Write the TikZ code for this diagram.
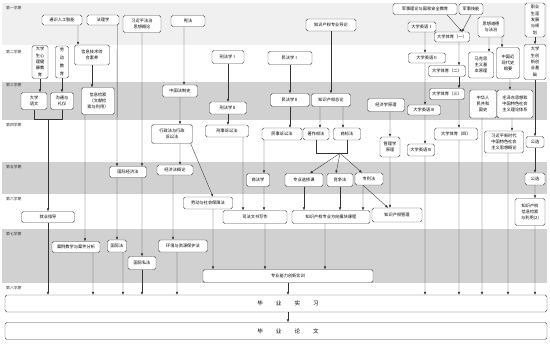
\documentclass[tikz,border=0pt]{standalone}
\usepackage{fontspec}
\setmainfont{Noto Sans CJK SC}
\usetikzlibrary{arrows.meta,calc}

\begin{document}
\begin{tikzpicture}[
  x=0.5mm, y=-0.5mm,
  font=\fontsize{6}{9}\selectfont,
  course/.style={draw=black!70, line width=0.6pt, rounded corners=2.5pt, fill=white,
                 align=center, inner sep=0.5pt},
  sz/.style 2 args={minimum width=#1*0.5mm, minimum height=#2*0.5mm},
  arr/.style={-{Latex[length=1.4mm,width=1.2mm]}, line width=0.5pt, draw=black!80},
  link/.style={line width=0.5pt, draw=black!80},
  term/.style={anchor=west, font=\fontsize{5.5}{6}\selectfont, text=black!80, inner sep=0pt},
  bandlight/.style={fill=black!6, draw=none},
  banddark/.style={fill=black!18, draw=none}
]
\useasboundingbox (0,0) rectangle (550,344);

% ---------------- 学期底色 ----------------
\fill[bandlight] (2,3) rectangle (547,45);
\fill[banddark] (2,82) rectangle (547,120);
\fill[banddark] (2,162) rectangle (547,194);
\fill[banddark] (2,229) rectangle (547,283);

\node[term] (t1) at (6,8) {第一学期};
\node[term] (t2) at (6,52) {第二学期};
\node[term] (t3) at (6,85) {第三学期};
\node[term] (t4) at (6,125) {第四学期};
\node[term] (t5) at (6,167) {第五学期};
\node[term] (t6) at (6,199) {第六学期};
\node[term] (t7) at (6,234) {第七学期};
\node[term] (t8) at (6,288) {第八学期};

% ---------------- 第一学期 ----------------
\node[course, sz={40}{10}] (tyrg) at (62,20) {通识人工智能};
\node[course, sz={32}{10}] (flx) at (103,20) {法理学};
\node[course, sz={38}{17}] (xfz) at (142,24) {习近平法治\\思想概论};
\node[course, sz={34}{11}] (xf) at (188,21) {宪法};
\node[course, sz={50}{12}] (zscqdl) at (331,25) {知识产权专业导论};
\node[course, sz={64}{11}] (jsll) at (425,9) {军事理论与国家安全教育};
\node[course, sz={24}{11}] (jsjn) at (471,9) {军事技能};
\node[course, sz={28}{10}] (yy1) at (422,27) {大学英语Ⅰ};
\node[course, sz={35}{10}] (ty1) at (452,37) {大学体育（一）};
\node[course, sz={26}{20}] (sxdd) at (491,27) {思想道德\\与法治};
\node[course, sz={20}{34}] (zysy) at (535,20) {职业\\生涯\\发展\\与规\\划};

% ---------------- 第二学期 ----------------
\node[course, sz={16}{33}] (xljk) at (40,62) {大学\\生心\\理健\\康教\\育};
\node[course, sz={13}{32}, font=\fontsize{6}{11}\selectfont] (ldjy) at (62,62) {劳\\动\\教\\育};
\node[course, sz={35}{20}] (xxjs) at (92,55) {信息技术综\\合素养};
\node[course, sz={32}{13}] (xfx1) at (228,57) {刑法学Ⅰ};
\node[course, sz={44}{13}] (mfx1) at (290,58) {民法学Ⅰ};
\node[course, sz={37}{10}] (yy2) at (427,58) {大学英语Ⅱ};
\node[course, sz={37}{11}] (ty2) at (447,71) {大学体育（二）};
\node[course, sz={25}{26}] (myl) at (481,65) {马克思\\主义基\\本原理};
\node[course, sz={23}{31}] (gy) at (508,63) {中国近\\现代史\\纲要};
\node[course, sz={22}{35}] (cxcy) at (535,62) {大学\\生创\\新创\\业基\\础};

% ---------------- 第三学期 ----------------
\node[course, sz={26}{17}] (dxyw) at (34,101) {大学\\语文};
\node[course, sz={23}{17}] (gtly) at (62,101) {沟通与\\礼仪};
\node[course, sz={33}{27}] (xxjss) at (98,101) {信息检索\\（文献检\\索与利用）};
\node[course, sz={35}{12}] (zgfzs) at (180,91) {中国法制史};
\node[course, sz={37}{12}] (xfx2) at (228,108) {刑法学Ⅱ};
\node[course, sz={39}{13}] (mfx2) at (290,100) {民法学Ⅱ};
\node[course, sz={39}{13}] (zscqzl) at (331,100) {知识产权总论};
\node[course, sz={37}{13}] (jjx) at (386,105) {经济学原理};
\node[course, sz={35}{11}] (ty3) at (447,94) {大学体育（三）};
\node[course, sz={33}{10}] (yy3) at (424,110) {大学英语Ⅲ};
\node[course, sz={27}{28}] (zhs) at (483,104) {中华人\\民共和\\国史};
\node[course, sz={36}{28}] (mg) at (515,104) {毛泽东思想和\\中国特色社会\\主义理论体系};

% ---------------- 第四学期 ----------------
\node[course, sz={41}{19}] (xzf) at (172,134) {行政法与行政\\诉讼法};
\node[course, sz={43}{12}] (xsss) at (227,131) {刑事诉讼法};
\node[course, sz={40}{12}] (msss) at (282,134) {民事诉讼法};
\node[course, sz={26}{12}] (zzq) at (316,134) {著作权法};
\node[course, sz={27}{12}] (sbf) at (347,134) {商标法};
\node[course, sz={20}{20}] (glx) at (390,147) {管理学\\原理};
\node[course, sz={27}{12}] (yy4) at (421,150) {大学英语Ⅳ};
\node[course, sz={43}{12}] (ty4) at (456,134) {大学体育（四）};
\node[course, sz={39}{22}] (xsd) at (504,142) {习近平新时代\\中国特色社会\\主义思想概论};
\node[course, sz={18}{11}] (gx1) at (535,142) {公选};

% ---------------- 第五学期 ----------------
\node[course, sz={37}{11}] (gjjjf) at (128,172) {国际经济法};
\node[course, sz={36}{10}] (jjfgl) at (175,170) {经济法概论};
\node[course, sz={23}{13}] (sfx) at (258,180) {商法学};
\node[course, sz={38}{13}] (zyxx) at (304,180) {专业选修课};
\node[course, sz={26}{13}] (jzf) at (340,180) {竞争法};
\node[course, sz={28}{12}] (zlf) at (369,179) {专利法};
\node[course, sz={20}{12}] (gx2) at (535,179) {公选};

% ---------------- 第六学期 ----------------
\node[course, sz={53}{11}] (jyzd) at (48,217) {就业指导};
\node[course, sz={49}{12}] (ldsb) at (208,203) {劳动与社会保障法};
\node[course, sz={64}{13}] (sfws) at (255,217) {司法文书写作};
\node[course, sz={78}{13}] (fxmk) at (331,217) {知识产权专业方向模块课程};
\node[course, sz={50}{14}] (zscqgl) at (397,215) {知识产权管理};
\node[course, sz={30}{27}] (zscqjs) at (530,212) {知识产权\\信息检索\\与利用(2)};

% ---------------- 第七、八学期 ----------------
\node[course, sz={48}{11}] (aljx) at (76,247) {案例教学与案件分析};
\node[course, sz={19}{12}] (gjf) at (117,246) {国际法};
\node[course, sz={28}{13}] (gjsf) at (142,263) {国际私法};
\node[course, sz={49}{12}] (hjzy) at (183,246) {环境与资源保护法};
\node[course, sz={170}{13}] (cxsx) at (288,276) {专业能力创新实训};
\node[course, sz={542}{17},
      label={[font=\fontsize{8}{8}\selectfont, xshift=6mm]center:毕\hspace{6.5mm}业\hspace{6.5mm}实\hspace{6.5mm}习}]
  (bysx) at (276,303.5) {};
\node[course, sz={542}{17},
      label={[font=\fontsize{8}{8}\selectfont, xshift=6mm]center:毕\hspace{6.5mm}业\hspace{6.5mm}论\hspace{6.5mm}文}]
  (bylw) at (276,331) {};

% ---------------- 左侧连线 ----------------
\draw[arr] ([xshift=8mm]tyrg.south) -- ([xshift=-7mm]xxjs.north);
\draw[arr] (xljk.south) -- (xljk.south |- dxyw.north);
\draw[arr] (ldjy.south) -- (ldjy.south |- gtly.north);
\draw[arr] (xxjs.south) -- (xxjs.south |- xxjss.north);
\coordinate (ywgt) at ($(dxyw.south)!0.5!(gtly.south)+(0,9)$);
\draw[link] (dxyw.south) |- (ywgt) -| (gtly.south);
\draw[arr] (ywgt) -- (jyzd.north);
\draw[arr] ([xshift=-6.5mm]xxjss.south) -- ([xshift=4.5mm]aljx.north);
\draw[arr] ([xshift=-1mm]flx.south east) -- ([xshift=-5.5mm]gjjjf.north);
\draw[arr] (xfz.south) -- ([xshift=7mm]gjjjf.north);
\draw[arr] ([xshift=-5.5mm]gjjjf.south) -- (gjf.north);
\draw[arr] ([xshift=7mm]gjjjf.south) -- (gjsf.north);

% ---------------- 法学主干 ----------------
\draw[arr] ([xshift=-2mm]xf.south) -- ([xshift=2mm]zgfzs.north);
\draw[arr] (zgfzs.south) -- ([xshift=4mm]xzf.north);
\draw[arr] ([xshift=4mm]xzf.south) -- ([xshift=2.5mm]jjfgl.north);
\draw[arr] ([xshift=-1mm]xzf.south east) -- ([xshift=2.5mm]ldsb.north);
\draw[arr] ([xshift=-1mm]jjfgl.south) -- ([xshift=-5mm]hjzy.north);
\draw[arr] ([xshift=2.5mm]ldsb.south) -- ([xshift=-37.5mm]cxsx.north);
\draw[arr] (xfx1.south) -- (xfx1.south |- xfx2.north);
\draw[arr] (xfx2.south) -- (xfx2.south |- xsss.north);
\draw[arr] ([xshift=8mm]xsss.south) -- ([xshift=-6mm]sfws.north);
\draw[arr] (mfx1.south) -- (mfx1.south |- mfx2.north);
\draw[arr] (mfx2.south) -- (mfx2.south |- msss.north);
\draw[arr] ([xshift=-9mm]msss.south) -- ([xshift=3mm]sfx.north);
\draw[arr] ([xshift=3mm]sfx.south) -- ([xshift=4.5mm]sfws.north);
\draw[arr] ([xshift=5mm]sfws.south) -- ([xshift=-11.5mm]cxsx.north);

% ---------------- 知识产权 ----------------
\draw[arr] (zscqdl.south) -- (zscqdl.south |- zscqzl.north);
\draw[arr] ([xshift=-5.5mm]zscqzl.south) -- ([xshift=2mm]zzq.north);
\draw[arr] ([xshift=6mm]zscqzl.south) -- ([xshift=-2mm]sbf.north);
\coordinate (zsfk) at ($(sbf.south)+(-7,13)$);
\draw[link] (zzq.south) |- (zsfk) -| (sbf.south);
\draw[arr] (zsfk) -- ([xshift=3mm]zyxx.north);
\draw[arr] (zsfk) -- ([xshift=-2mm]jzf.north);
\draw[arr] (zsfk) -- ([xshift=-3.5mm]zlf.north);
\draw[arr] ([xshift=2mm]jjx.south) -- (glx.north);
\draw[arr] (glx.south) -- ([xshift=-3.5mm]zscqgl.north);
\draw[arr] ([xshift=-3mm]zlf.south) -- ([xshift=-4.5mm]zscqgl.north);
\draw[arr] (zyxx.south) -- (zyxx.south |- fxmk.north);
\draw[arr] (jzf.south) -- (jzf.south |- fxmk.north);
\draw[arr] ([xshift=-3mm]zlf.south) -- ([xshift=16mm]fxmk.north);
\draw[arr] ([xshift=-3mm]fxmk.south) -- ([xshift=18.5mm]cxsx.north);

% ---------------- 公共课 ----------------
\draw[arr] ([xshift=11mm]jsll.south) -- ([xshift=5mm]ty1.north);
\draw[arr] (jsjn.south) -- ([xshift=5mm]ty1.north);
\draw[arr] ([xshift=1.5mm]yy1.south) -- ([xshift=-1mm]yy2.north);
\draw[arr] ([xshift=-1mm]yy2.south) -- ([xshift=0.5mm]yy3.north);
\draw[arr] ([xshift=0.5mm]yy3.south) -- ([xshift=2mm]yy4.north);
\draw[arr] ([xshift=3.5mm]ty1.south) -- ([xshift=6mm]ty2.north);
\draw[arr] ([xshift=6mm]ty2.south) -- ([xshift=6mm]ty3.north);
\draw[arr] ([xshift=6mm]ty3.south) -- ([xshift=1.5mm]ty4.north);
\draw[arr] ([xshift=-1mm]sxdd.south) -- ([xshift=4mm]myl.north);
\draw[arr] ([xshift=5.5mm]sxdd.south) -- ([xshift=-3mm]gy.north);
\draw[arr] ([xshift=1mm]gy.south) -- ([xshift=-2.5mm]mg.north);
\draw[arr] ([xshift=-1.5mm]mg.south) -- ([xshift=4mm]xsd.north);
\draw[arr] (zysy.south) -- (zysy.south |- cxcy.north);
\draw[arr] (cxcy.south) -- (cxcy.south |- gx1.north);
\draw[arr] (gx1.south) -- (gx1.south |- gx2.north);
\draw[arr] (gx2.south) -- ([xshift=2.5mm]zscqjs.north);

% ---------------- 汇入毕业实习 ----------------
\draw[arr] (jyzd.south) -- (jyzd.south |- bysx.north);
\draw[arr] ([xshift=8.5mm]aljx.south) -- ([xshift=-91.5mm]bysx.north);
\draw[arr] ([xshift=3mm]gjf.south) -- ([xshift=-76.5mm]bysx.north);
\draw[arr] (gjsf.south) -- (gjsf.south |- bysx.north);
\draw[arr] ([xshift=-3mm]hjzy.south) -- ([xshift=-49.5mm]bysx.north);
\draw[arr] (cxsx.south) -- (cxsx.south |- bysx.north);
\draw[arr] ([xshift=2mm]yy4.south) -- ([xshift=74.5mm]bysx.north);
\draw[arr] ([xshift=1.5mm]ty4.south) -- ([xshift=91.5mm]bysx.north);
\draw[arr] ([xshift=-0.5mm]zhs.south) -- ([xshift=103mm]bysx.north);
\draw[arr] ([xshift=2mm]xsd.south) -- ([xshift=116mm]bysx.north);
\draw[arr] ([xshift=2.5mm]zscqjs.south) -- ([xshift=129.5mm]bysx.north);
\draw[arr] ([xshift=6mm]bysx.south) -- ([xshift=6mm]bylw.north);

\end{tikzpicture}
\end{document}
